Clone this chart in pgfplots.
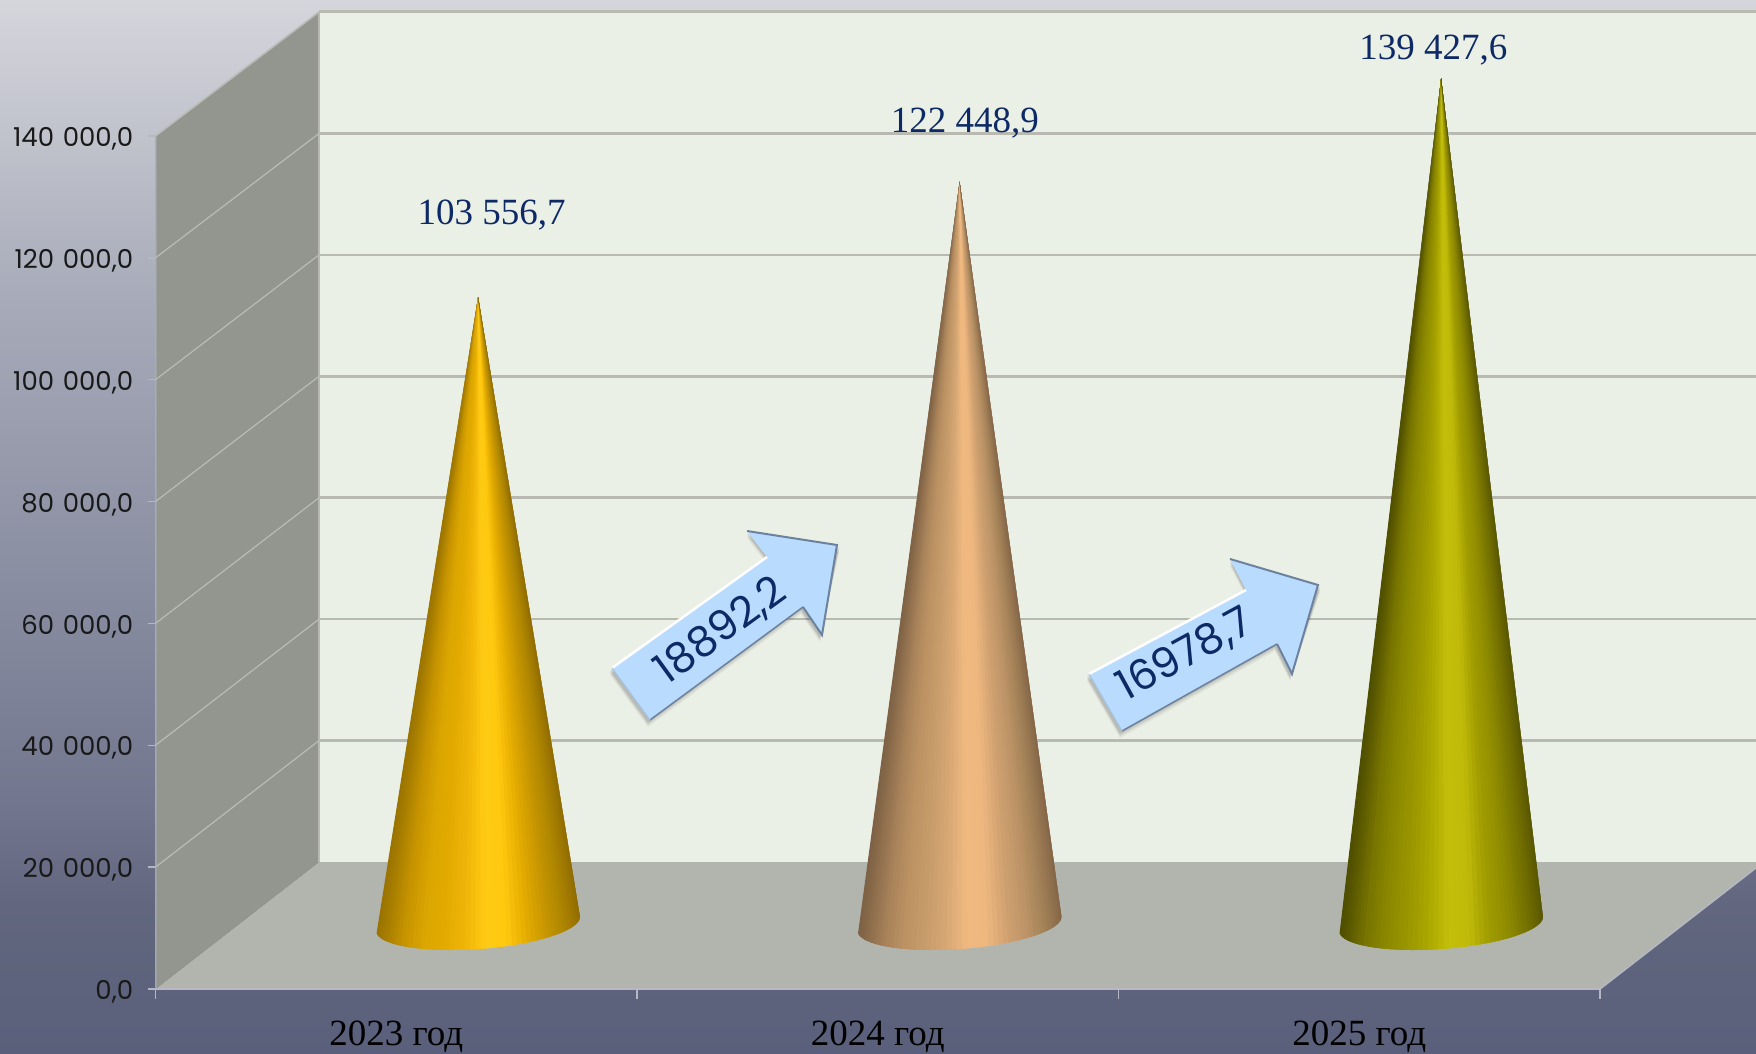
\documentclass[border=0pt]{standalone}
\usepackage{fontspec}
\setmainfont{Poppins}
\newfontfamily\timesfont{Liberation Serif}
\usepackage{pgfplots}
\pgfplotsset{compat=1.18}
\usepgfplotslibrary{colormaps}
\usetikzlibrary{calc}

\definecolor{backwall}{HTML}{EBF0E6}
\definecolor{sidewall}{HTML}{92968F}
\definecolor{floorcol}{HTML}{B2B5AE}
\definecolor{gridback}{HTML}{B8BAB2}
\definecolor{gridside}{HTML}{B9BCB6}
\definecolor{axisline}{HTML}{B5B7C2}
\definecolor{valblue}{HTML}{0E2A66}
\definecolor{arrowblue}{HTML}{B9DBFD}
\definecolor{arrowedge}{HTML}{6D829E}

\definecolor{bg0}{HTML}{D5D6DC}
\definecolor{bg1}{HTML}{A8ABB9}
\definecolor{bg2}{HTML}{72778F}
\definecolor{bg3}{HTML}{62677F}
\definecolor{bg4}{HTML}{5A5F7B}
\pgfdeclareverticalshading{pagebg}{100bp}{color(0bp)=(bg4); color(25bp)=(bg4); color(32bp)=(bg3); color(37bp)=(bg2); color(61bp)=(bg1); color(75bp)=(bg0); color(100bp)=(bg0)}

\pgfplotsset{
  colormap={conegold}{
    rgb255=(154,116,0) rgb255=(196,146,0) rgb255=(219,166,0) rgb255=(227,171,0)
    rgb255=(240,181,8) rgb255=(255,202,20) rgb255=(255,201,16) rgb255=(230,173,0)
    rgb255=(201,151,0) rgb255=(174,133,0) rgb255=(143,108,0)},
  colormap={conepeach}{
    rgb255=(126,98,69) rgb255=(165,128,88) rgb255=(189,147,100) rgb255=(200,156,107)
    rgb255=(216,168,116) rgb255=(240,185,128) rgb255=(238,183,127) rgb255=(208,161,112)
    rgb255=(189,148,103) rgb255=(162,128,87) rgb255=(131,101,71)},
  colormap={coneolive}{
    rgb255=(78,78,0) rgb255=(119,116,0) rgb255=(140,137,0) rgb255=(154,150,0)
    rgb255=(172,168,0) rgb255=(196,191,10) rgb255=(192,187,8) rgb255=(160,156,0)
    rgb255=(143,139,0) rgb255=(117,114,0) rgb255=(88,86,0)},
}

% cone: x of centre, value, colormap; slices painted left to right
\newcommand{\cone}[3]{%
  \begingroup
    \pgfkeys{/pgf/fpu=true,/pgf/fpu/output format=fixed}%
    \pgfmathparse{#2+10010}\xdef\conetip{\pgfmathresult}%
  \endgroup
  \foreach \t in {180,177,...,3}{
    \pgfmathsetmacro\ta{\t}
    \pgfmathsetmacro\tb{max(\t-3,0)}
    \pgfmathsetmacro\tc{max(\t-6,0)}
    \pgfmathsetmacro\xa{#1+(101.5*cos(\ta)+8*sin(\ta))/481.5}
    \pgfmathsetmacro\xb{#1+(101.5*cos(\tb)+8*sin(\tb))/481.5}
    \pgfmathsetmacro\xc{#1+(101.5*cos(\tc)+8*sin(\tc))/481.5}
    \pgfmathsetmacro\ya{10668-(-9*cos(\ta)+24.4*sin(\ta))*164.12}
    \pgfmathsetmacro\yb{10668-(-9*cos(\tb)+24.4*sin(\tb))*164.12}
    \pgfmathsetmacro\yc{10668-(-9*cos(\tc)+24.4*sin(\tc))*164.12}
    \pgfmathsetmacro\cc{(1+cos(\t-1.5))*500}
    \edef\temp{\noexpand\addplot[draw=none,color of colormap={\cc\space of #3},fill=.,forget plot]
      coordinates {(#1,\conetip) (\xa,\ya) (\xb,\yb) (\xc,\yc)} --cycle;}
    \temp
  }
}

% block arrow in picture pixels, y down
\newcommand{\blockarrow}[7]{%
  \foreach \s/\o in {7/0.05,5/0.07,3/0.10}{
    \fill[black,opacity=\o] ($(#1)+(-2,\s)$) -- ($(#2)+(-2,\s)$) -- ($(#3)+(-2,\s)$) -- ($(#4)+(-2,\s)$) -- ($(#5)+(2,\s)$) -- ($(#6)+(0,\s)$) -- ($(#7)+(0,\s)$) -- cycle;
  }
  \fill[arrowblue] (#1) -- (#2) -- (#3) -- (#4) -- (#5) -- (#6) -- (#7) -- cycle;
  \draw[white,line width=2.5pt] (#1) -- (#7);
  \draw[arrowedge,line width=1.5pt] (#2) -- (#3);
  \draw[arrowedge,line width=2pt,line join=miter] (#6) -- (#5) -- (#4) -- (#3);
  \draw[arrowblue!70!arrowedge,line width=1pt] (#1) -- (#2);
}

\begin{document}
\begin{tikzpicture}[x=1pt,y=1pt]
\useasboundingbox (0,0) rectangle (1756,1053);
\shade[shading=pagebg] (0,0) rectangle (1756,1053);

\begin{axis}[
    at={(155.5pt,64pt)}, anchor=south west,
    width=1600.5pt, height=989pt, scale only axis,
    xmin=0, xmax=3.324,
    ymin=0, ymax=162315,
    axis x line*=bottom, axis y line*=left,
    axis line style={draw=none},
    tick align=outside,
    major tick length=8pt, minor tick length=10pt,
    xtick={0.5,1.5,2.5},
    xticklabels={2023 год,2024 год,2025 год},
    minor xtick={0,1,2,3},
    major x tick style={draw=none},
    minor x tick style={axisline,line width=1.4pt},
    ytick={0,20000,...,140000},
    y tick style={axisline,line width=1.4pt},
    scaled y ticks=false,
    yticklabel style={
        /pgf/number format/.cd, fixed, fixed zerofill, precision=1, use comma,
        1000 sep={\,\,}, assume math mode=true,
        /tikz/.cd, font=\fontsize{26}{30}\selectfont, text=black!90, inner sep=0pt, xshift=-14pt, yshift=-3pt},
    xticklabel style={font=\timesfont\fontsize{37}{40}\selectfont, text=black, inner sep=0pt, yshift=-24pt},
]
% walls and floor
\addplot[fill=backwall,draw=none,forget plot] coordinates {(0.3396,20843) (3.4,20843) (3.4,160345) (0.3396,160345)} --cycle;
\addplot[fill=floorcol,draw=none,forget plot] coordinates {(0,0) (3,0) (3.3396,20843) (0.3396,20843)} --cycle;
\addplot[fill=sidewall,draw=none,forget plot] coordinates {(0,0) (0.3396,20843) (0.3396,160345) (0,140000)} --cycle;

% back wall lines
\addplot[gridback,line width=2.6pt,forget plot] coordinates {(0.3396,40772) (3.4,40772)};
\addplot[gridback,line width=2.6pt,forget plot] coordinates {(0.3396,60701) (3.4,60701)};
\addplot[gridback,line width=2.6pt,forget plot] coordinates {(0.3396,80630) (3.4,80630)};
\addplot[gridback,line width=2.6pt,forget plot] coordinates {(0.3396,100558) (3.4,100558)};
\addplot[gridback,line width=2.6pt,forget plot] coordinates {(0.3396,120487) (3.4,120487)};
\addplot[gridback,line width=2.6pt,forget plot] coordinates {(0.3396,140416) (3.4,140416)};
\addplot[gridback,line width=3pt,forget plot] coordinates {(0.3396,160345) (3.4,160345)};
\addplot[gridback,line width=1.6pt,forget plot] coordinates {(0.3396,20843) (0.3396,160345)};

% side wall lines
\addplot[gridside,line width=1.2pt,forget plot] coordinates {(0,20000) (0.3396,40772)};
\addplot[gridside,line width=1.2pt,forget plot] coordinates {(0,40000) (0.3396,60701)};
\addplot[gridside,line width=1.2pt,forget plot] coordinates {(0,60000) (0.3396,80630)};
\addplot[gridside,line width=1.2pt,forget plot] coordinates {(0,80000) (0.3396,100558)};
\addplot[gridside,line width=1.2pt,forget plot] coordinates {(0,100000) (0.3396,120487)};
\addplot[gridside,line width=1.2pt,forget plot] coordinates {(0,120000) (0.3396,140416)};
\addplot[gridside,line width=1.6pt,forget plot] coordinates {(0,140000) (0.3396,160345)};

% front edges
\addplot[axisline,line width=1.6pt,forget plot] coordinates {(0,140000) (0,0) (3,0) (3.3396,20843)};

% cones
\cone{0.67}{103556.7}{conegold}
\cone{1.67}{122448.9}{conepeach}
\cone{2.67}{139427.6}{coneolive}

% value labels
\node[font=\timesfont\fontsize{37}{40}\selectfont,text=valblue] at (axis cs:0.698,126950) {103 556,7};
\node[font=\timesfont\fontsize{37}{40}\selectfont,text=valblue] at (axis cs:1.681,142050) {122 448,9};
\node[font=\timesfont\fontsize{37}{40}\selectfont,text=valblue] at (axis cs:2.654,154030) {139 427,6};
\end{axis}

\begin{scope}[y=-1pt,yshift=1053pt]
\blockarrow{612,668}{650,720}{803,607}{822,635}{837,545}{747,531}{767,557}
\node[rotate=36,text=valblue,font=\fontsize{42}{44}\selectfont,inner sep=0pt] at (721,631) {18892,2};
\blockarrow{1089,674}{1122,731}{1277,644}{1292,674}{1318,585}{1230,559}{1246,590}
\node[rotate=28.6,text=valblue,font=\fontsize{42}{44}\selectfont,inner sep=0pt] at (1185,655) {16978,7};
\end{scope}
\end{tikzpicture}
\end{document}
